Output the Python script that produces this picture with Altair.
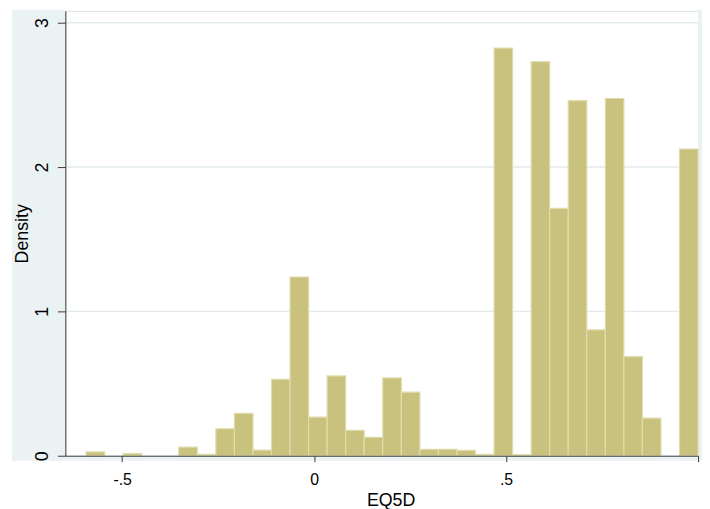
import altair as alt
import pandas as pd

# Histogram bins (Stata-style: 33 bins from min -0.594 to max 1.0)
bin_start = [-0.5940, -0.5457, -0.4974, -0.4491, -0.4008, -0.3525, -0.3042, -0.2559,
             -0.2076, -0.1593, -0.1110, -0.0627, -0.0144, 0.0339, 0.0822, 0.1305,
             0.1788, 0.2272, 0.2755, 0.3238, 0.3721, 0.4204, 0.4687, 0.5170,
             0.5653, 0.6136, 0.6619, 0.7102, 0.7585, 0.8068, 0.8551, 0.9034, 0.9517]
bin_end = bin_start[1:] + [1.0]
density = [0.027, 0.0, 0.014, 0.0, 0.0, 0.060, 0.010, 0.187, 0.294, 0.039, 0.530,
           1.238, 0.267, 0.553, 0.176, 0.128, 0.539, 0.440, 0.045, 0.045, 0.037,
           0.010, 2.824, 0.008, 2.730, 1.714, 2.460, 0.872, 2.475, 0.687, 0.260,
           0.0, 2.125]

x_ticks = [-0.5, 0, 0.5, 1]
y_ticks = [0, 1, 2, 3]
grid_vals = [1, 2, 3]

FONT = "Liberation Sans"
BAND = "#EAF2F3"

df = pd.DataFrame({"start": bin_start, "end": bin_end, "density": density})
df = df[df["density"] > 0]

xscale = alt.Scale(domain=[-0.648, 1.0], nice=False, zero=False)
yscale = alt.Scale(domain=[0, 3.082], nice=False)

x_axis = alt.Axis(values=x_ticks, grid=False, domainColor="#3a3a3a", tickColor="#3a3a3a",
                  tickSize=6, labelFontSize=16, labelColor="#000000", labelPadding=10,
                  labelExpr="datum.value == 1 ? '' : (datum.value == -0.5 ? '-.5' : (datum.value == 0.5 ? '.5' : '0'))",
                  titleFontSize=18, titleFontWeight="normal", titleColor="#000000",
                  titlePadding=4, titleX=329, zindex=1)
y_axis = alt.Axis(values=y_ticks, grid=False, domainColor="#3a3a3a", tickColor="#3a3a3a",
                  tickSize=8, labelFontSize=18, labelColor="#000000", labelAngle=270,
                  labelAlign="center", labelBaseline="bottom", labelPadding=6,
                  titleFontSize=18, titleFontWeight="normal", titleColor="#000000",
                  titlePadding=2, zindex=1)

one = pd.DataFrame({"p": [0]})
left_band = alt.Chart(one).mark_rect(color=BAND).encode(
    x=alt.value(-54), x2=alt.value(0), y=alt.value(-1), y2=alt.value(455))
bottom_band = alt.Chart(one).mark_rect(color=BAND).encode(
    x=alt.value(0), x2=alt.value(644), y=alt.value(450), y2=alt.value(455))
right_band = alt.Chart(one).mark_rect(color=BAND).encode(
    x=alt.value(640), x2=alt.value(644), y=alt.value(-1), y2=alt.value(450))

grid = alt.Chart(pd.DataFrame({"g": grid_vals})).mark_rule(
    color="#E3EBED", strokeWidth=1.5).encode(
    y=alt.Y("g:Q", scale=yscale, axis=y_axis, title="Density"))

bars = alt.Chart(df).mark_rect(color="#C9C27E", stroke="#E0DCAB", strokeWidth=1.2).encode(
    x=alt.X("start:Q", scale=xscale, axis=x_axis, title="EQ5D"),
    x2="end:Q",
    y=alt.Y("density:Q", scale=yscale, axis=y_axis, title="Density"),
    y2=alt.datum(0),
)

chart = alt.layer(left_band, bottom_band, right_band, grid, bars).properties(
    width=640, height=450,
    autosize=alt.AutoSizeParams(type="none"),
    padding={"left": 58, "top": 0, "right": 4, "bottom": 51},
    background="white",
).configure(font=FONT).configure_view(stroke="#DCE2E5", strokeWidth=1)

chart.save("out.html", embed_options={"renderer": "svg", "actions": False})
